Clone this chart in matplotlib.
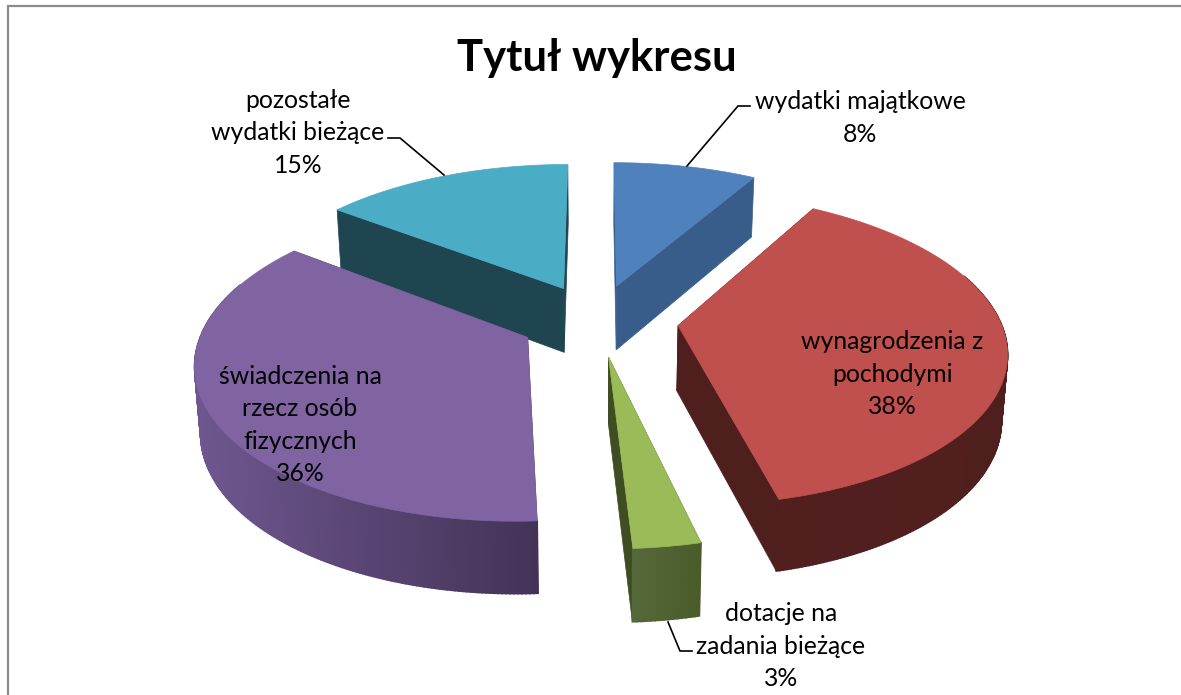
import numpy as np
import matplotlib
matplotlib.use("Agg")
import matplotlib.pyplot as plt

# data
categories = ["wydatki majątkowe", "wynagrodzenia z\npochodymi", "dotacje na\nzadania bieżące",
              "świadczenia na\nrzecz osób\nfizycznych", "pozostałe\nwydatki bieżące"]
shares = [8.4, 37.9, 2.8, 36.2, 14.7]
explode = [0.24, 0.253, 0.24, 0.24, 0.24]
top_colors = ["#4F81BD", "#C0504D", "#9BBB59", "#8064A2", "#4BACC6"]
radial_colors = ["#385D8A", "#4F1F1E", "#3F4D22", "#4A3A60", "#1F4550"]
rim_left = ["#385D8A", "#521F1F", "#56693A", "#6E5790", "#1F4550"]
rim_right = ["#385D8A", "#4F1F1E", "#4A5C2A", "#443357", "#1F4550"]

# label position (centre, px) and leader lines
label_pos = [(860, 118), (892, 374), (781, 646), (300, 425), (298, 133)]
label_lines = [[(750, 106), (738, 106), (687, 166)],
               None,
               [(692, 651), (680, 651), (668, 622)],
               None,
               [(388, 138), (400, 138), (444, 175)]]

# projection of the pie, in figure pixels
CX, CY = 597, 320
R = 322
R_TILT = 151
PERSP = 0.148
DEPTH = 65
BOTTOM_SHRINK = 0.985


def project(u, v, bottom=False):
    s = 1 / (1 + PERSP * v)
    x = R * u * s
    y = -R_TILT * v * s
    if bottom:
        return CX + x * BOTTOM_SHRINK, CY + y + DEPTH * s ** 0.6
    return CX + x, CY + y


def mix(c1, c2, t):
    a = np.array(matplotlib.colors.to_rgb(c1))
    b = np.array(matplotlib.colors.to_rgb(c2))
    return a + (b - a) * t


plt.rcParams["font.family"] = ["Lato", "DejaVu Sans"]
fig = plt.figure(figsize=(11.81, 6.95), dpi=100)
ax = fig.add_axes([0, 0, 1, 1])
ax.set_xlim(0, 1181)
ax.set_ylim(695, 0)
ax.axis("off")

# chart frame, cut off by the crop at the right and bottom
ax.plot([7.5, 7.5, 1181], [695, 6, 6], color="#8C8C8C", lw=1.6, solid_joinstyle="miter")

edges = np.cumsum([0] + shares) / sum(shares) * 2 * np.pi
order = [0, 4, 1, 3, 2]  # back to front

for i in order:
    a0, a1 = edges[i], edges[i + 1]
    mid = (a0 + a1) / 2
    ou, ov = explode[i] * np.sin(mid), explode[i] * np.cos(mid)
    angles = np.linspace(a0, a1, max(int(shares[i] * 6), 8))
    us = ou + np.sin(angles)
    vs = ov + np.cos(angles)

    # radial faces
    for au, av in [(us[0], vs[0]), (us[-1], vs[-1])]:
        pts = [project(ou, ov), project(au, av), project(au, av, True), project(ou, ov, True)]
        ax.fill(*zip(*pts), color=radial_colors[i], lw=0.5, zorder=2)

    # rim, shaded left to right
    xs_rim = [project(u, v)[0] for u, v in zip(us, vs)]
    lo, hi = min(xs_rim), max(xs_rim)
    for j in range(len(us) - 1):
        if np.cos(angles[j]) > 0.35:
            continue
        pts = [project(us[j], vs[j]), project(us[j + 1], vs[j + 1]),
               project(us[j + 1], vs[j + 1], True), project(us[j], vs[j], True)]
        t = (xs_rim[j] - lo) / max(hi - lo, 1)
        ax.fill(*zip(*pts), color=mix(rim_left[i], rim_right[i], t), lw=1.2, zorder=2)

    # top
    top = [project(ou, ov)] + [project(u, v) for u, v in zip(us, vs)]
    ax.fill(*zip(*top), color=top_colors[i], lw=0.5, zorder=3)

for line in label_lines:
    if line:
        ax.plot(*zip(*line), color="black", lw=1.2, zorder=4, solid_joinstyle="miter")

for i, (x, y) in enumerate(label_pos):
    ax.text(x, y, f"{categories[i]}\n{shares[i]:.0f}%", ha="center", va="center",
            fontsize=17.8, color="black", linespacing=1.5, zorder=5)

ax.text(597, 58, "Tytuł wykresu", ha="center", va="center", fontsize=31.4,
        fontweight="bold", color="black", zorder=5)

fig.savefig("out.png", dpi=100)
